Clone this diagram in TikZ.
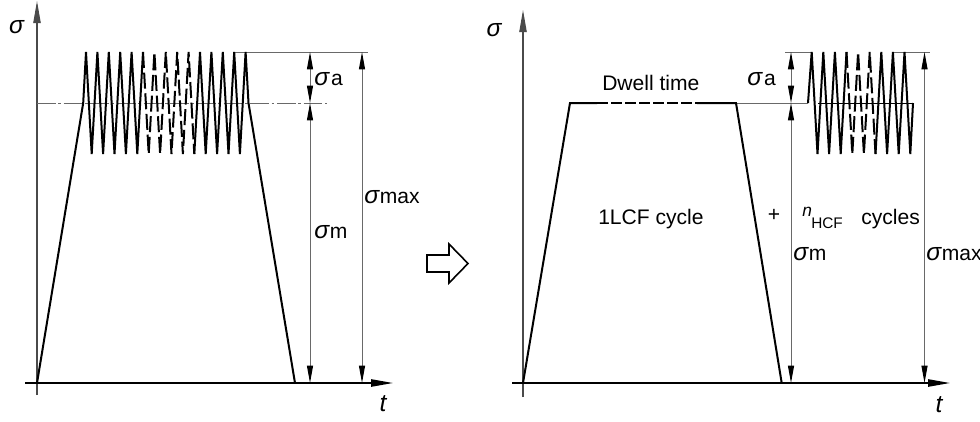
\documentclass[tikz,border=0pt]{standalone}
\usepackage{fontspec}
\setmainfont{Liberation Sans}
\usepackage{tikz}
\usetikzlibrary{arrows.meta}
\definecolor{mygray}{RGB}{105,105,105}
\tikzset{
  curve/.style={line width=1.5pt, black},
  dashcurve/.style={curve, dash pattern=on 12pt off 3.5pt},
  thinline/.style={line width=0.75pt, color=mygray},
  dashdot/.style={thinline, dash pattern=on 14pt off 2pt on 2pt off 2pt},
  dimline/.style={thinline, {Triangle[length=13pt,width=4.5pt,color=black]}-{Triangle[length=13pt,width=4.5pt,color=black]}},
  axis/.style={line width=1.1pt, -{Triangle[length=16.5pt,width=5.5pt]}},
  lbl/.style={font=\fontsize{15.8}{18}\selectfont, inner sep=0pt, anchor=base west},
  sym/.style={font=\fontsize{18.5}{20}\selectfont\itshape, inner sep=0pt}
}
\newcommand{\sig}{{\fontsize{18.5}{20}\selectfont\itshape σ}}

\begin{document}
\begin{tikzpicture}[x=0.75pt, y=-0.75pt]
  \useasboundingbox (0,0) rectangle (980,421);

  % left axes
  \draw[axis, line width=0.8pt, color=mygray!70!black] (37,395) -- (37,1);
  \draw[axis] (25,383) -- (393,383);
  \node[sym] (sigL) at (16.5,27) {σ};
  \node[sym] (tL) at (383,404) {t};

  % left reference lines
  \draw[thinline] (234,52) -- (368,52);
  \draw[dashdot] (37,103) -- (327,103);

  % left load history
  \draw[curve] (37,383) -- (83.2,103) \foreach \k in {0,...,4} {-- (86+11.4*\k,52) -- (91.7+11.4*\k,154)} -- (143,52);
  \draw[dashcurve] (143,52) \foreach \k in {5,...,8} {-- (91.7+11.4*\k,154) -- (97.4+11.4*\k,52)} -- (194.3,154);
  \draw[curve] (194.3,154) \foreach \k in {10,...,13} {-- (86+11.4*\k,52) -- (91.7+11.4*\k,154)} -- (245.6,52) -- (248.5,103) -- (295,383);

  % left dimensions
  \draw[dimline] (310,52) -- (310,103);
  \draw[dimline] (310,103) -- (310,383);
  \draw[dimline] (362,52) -- (362,383);
  \node[lbl] (saL) at (314,85) {\sig\kern1.5pt a};
  \node[lbl] (smL) at (314,238) {\sig\kern0.5pt m};
  \node[lbl] (smaxL) at (364,203) {\sig\kern0.5pt max};

  % hollow arrow
  \draw[line width=1.2pt] (427,255) -- (449,255) -- (449,244) -- (468,263.5) -- (449,283) -- (449,272) -- (427,272) -- cycle;

  % right axes
  \draw[axis, line width=0.8pt, color=mygray!70!black] (523,397) -- (523,10);
  \draw[axis] (512,383) -- (950,383);
  \node[sym] (sigR) at (494,30) {σ};
  \node[sym] (tR) at (939,405) {t};

  % right reference lines
  \draw[thinline] (736,103) -- (808,103);
  \draw[thinline] (785,52) -- (811.7,52);
  \draw[thinline] (893.3,52) -- (930,52);
  \draw[line width=0.75pt] (818,103) -- (913,103);

  % 1 LCF cycle with dwell
  \draw[curve] (523,383) -- (570,103) -- (597,103);
  \draw[curve, dash pattern=on 8pt off 2.5pt] (597,103) -- (697,103);
  \draw[curve] (697,103) -- (736,103) -- (781.7,383);

  % HCF cycles
  \draw[curve] (808,103) \foreach \k in {0,1,2} {-- (811.7+11.6*\k,52) -- (817.5+11.6*\k,154)} -- (846.5,52);
  \draw[dashcurve] (846.5,52) \foreach \k in {3,4} {-- (817.5+11.6*\k,154) -- (823.3+11.6*\k,52)} -- (875.5,154);
  \draw[curve] (875.5,154) \foreach \k in {6,7,8} {-- (811.7+11.6*\k,52) -- (817.5+11.6*\k,154)} -- (913,103);

  % right dimensions
  \draw[dimline] (791,52) -- (791,103);
  \draw[dimline] (791,103) -- (791,383);
  \draw[dimline] (924.5,52) -- (924.5,383);
  \node[lbl] (saR) at (747,85) {\sig\kern1.5pt a};
  \node[lbl] (smR) at (793,260) {\sig\kern0.5pt m};
  \node[lbl] (smaxR) at (926,260) {\sig\kern0.5pt max};

  % texts
  \node[lbl] (dwell) at (602,90.7) {Dwell time};
  \node[lbl] (lcf) at (598,224) {1LCF cycle};
  \node[lbl, anchor=center] (plus) at (774,215) {+};
  \node[lbl, font=\fontsize{13}{14}\selectfont\itshape] (nn) at (802,216.7) {n};
  \node[lbl, font=\fontsize{11.5}{12}\selectfont] (hcf) at (811,228) {HCF};
  \node[lbl] (cyc) at (861,224) {cycles};
\end{tikzpicture}
\end{document}
